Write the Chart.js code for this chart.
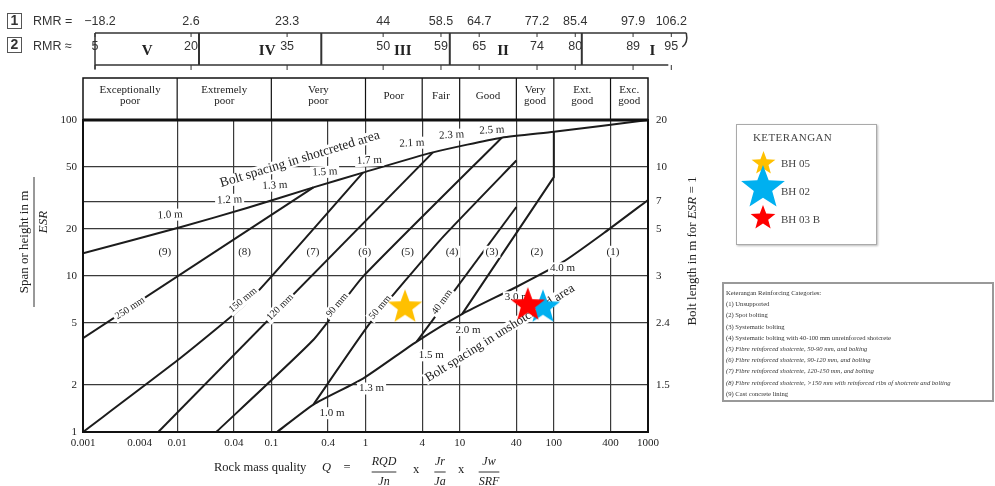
<!DOCTYPE html>
<html>
<head>
<meta charset="utf-8">
<script src="https://cdn.jsdelivr.net/npm/chart.js@4.4.1/dist/chart.umd.min.js"></script>
<style>
  html, body { margin: 0; padding: 0; background: #fff; }
  #wrap { position: relative; width: 995px; height: 486px; overflow: hidden; }
  #chart { position: absolute; left: 0; top: 0; }
  #key1 { position: absolute; left: 736px; top: 124px; width: 141px; height: 121px; box-sizing: border-box;
          border: 1px solid #aaa; box-shadow: 1px 1px 2px #bbb; font-family: 'Liberation Serif', serif; color: #444; font-size: 11px; }
  #key1 .title { position: absolute; left: 16px; top: 6px; letter-spacing: 0.4px; }
  #key1 canvas { position: absolute; }
  #key1 .name { position: absolute; left: 44px; line-height: 12px; }
  #key2 { position: absolute; left: 722px; top: 282px; width: 272px; height: 120px; box-sizing: border-box;
          border: 2px solid #999; font-family: 'Liberation Serif', serif; color: #333; font-size: 6.6px; padding: 3px 0 0 2px; }
  #key2 div { line-height: 11.2px; white-space: nowrap; }
  #key2 .it { font-style: italic; }
</style>
</head>
<body>
<div id="wrap">
  <canvas id="chart" width="995" height="486"></canvas>
  <div id="key1"><div class="title">KETERANGAN</div></div>
  <div id="key2">
    <div>Keterangan Reinforcing Categories:</div>
    <div>(1) Unsupported</div>
    <div>(2) Spot bolting</div>
    <div>(3) Systematic bolting</div>
    <div>(4) Systematic bolting with 40-100 mm unreinforced shotcrete</div>
    <div class="it">(5) Fibre reinforced shotcrete, 50-90 mm, and bolting</div>
    <div class="it">(6) Fibre reinforced shotcrete, 90-120 mm, and bolting</div>
    <div class="it">(7) Fibre reinforced shotcrete, 120-150 mm, and bolting</div>
    <div class="it">(8) Fibre reinforced shotcrete, &gt;150 mm with reinforced ribs of shotcrete and bolting</div>
    <div>(9) Cast concrete lining</div>
  </div>
</div>
<script>
// axes
const qTicks = [0.001, 0.004, 0.01, 0.04, 0.1, 0.4, 1, 4, 10, 40, 100, 400, 1000];
const qNoGrid = [0.001, 0.004, 1000];
const spanTicks = [1, 2, 5, 10, 20, 30, 50, 100];
const spanLabels = ['1', '2', '5', '10', '20', '', '50', '100'];
const boltLengthAt = [2, 5, 10, 20, 30, 50, 100];
const boltLengthLabels = ['1.5', '2.4', '3', '5', '7', '10', '20'];

// rock quality header
const qualityBounds = [0.001, 0.01, 0.1, 1, 4, 10, 40, 100, 400, 1000];
const qualityNames = [['Exceptionally', 'poor'], ['Extremely', 'poor'], ['Very', 'poor'], ['Poor'], ['Fair'],
  ['Good'], ['Very', 'good'], ['Ext.', 'good'], ['Exc.', 'good']];

// RMR rows above the chart
const rmrQ = [0.001, 0.01, 0.1, 1, 4, 10, 40, 100, 400, 1000];
const rmrRow1 = ['\u221218.2', '2.6', '23.3', '44', '58.5', '64.7', '77.2', '85.4', '97.9', '106.2'];
const rmrRow2 = ['5', '20', '35', '50', '59', '65', '74', '80', '89', '95'];
const rmrClassBreakQ = [0.0121, 0.227, 4.94, 117];
const rmrClassNames = ['V', 'IV', 'III', 'II', 'I'];
const rmrClassQ = [0.0035, 0.062, 1.6, 17.7, 635];

// support chart lines (Q, span/ESR)
const shotcreteLimitQ = [0.001, 0.011, 0.055, 0.28, 0.94, 5.2, 28, 100, 1000];
const shotcreteLimitS = [14, 20.6, 27.3, 37, 46, 62, 77, 84, 100];
const unshotLimitQ = [0.115, 0.28, 0.94, 3.5, 10.6, 40, 125, 350, 1000];
const unshotLimitS = [1, 1.5, 2.2, 3.8, 5.7, 8.5, 12.3, 19.1, 30.7];
const mm250Q = [0.001, 0.28];
const mm250S = [4, 37];
const mm150Q = [0.001, 0.011, 0.059, 0.94];
const mm150S = [1, 3, 7, 46];
const mm120Q = [0.0063, 5.2];
const mm120S = [1, 62];
const mm90Q = [0.026, 0.28, 0.94, 28];
const mm90S = [1, 3.9, 9.9, 77];
const mm50Q = [0.28, 1.12, 6.2, 40];
const mm50S = [1.5, 5, 17, 55];
const mm40Q = [3.5, 40];
const mm40S = [3.8, 27.7];
const cat2Q = [10.6, 100, 100];
const cat2S = [5.7, 43, 84];

// text on the chart
const regionNames = ['(9)', '(8)', '(7)', '(6)', '(5)', '(4)', '(3)', '(2)', '(1)'];
const regionQ = [0.0074, 0.052, 0.277, 0.98, 2.8, 8.3, 22, 66, 425];
const regionS = [14.3, 14.3, 14.3, 14.3, 14.3, 14.3, 14.3, 14.3, 14.3];
const upperSpacing = ['1.0 m', '1.2 m', '1.3 m', '1.5 m', '1.7 m', '2.1 m', '2.3 m', '2.5 m'];
const upperSpacingQ = [0.0084, 0.036, 0.109, 0.37, 1.1, 3.1, 8.2, 22];
const upperSpacingS = [24.6, 30.7, 38, 46.4, 55, 71, 80, 86];
const lowerSpacing = ['1.0 m', '1.3 m', '1.5 m', '2.0 m', '3.0 m', '4.0 m'];
const lowerSpacingQ = [0.44, 1.16, 5.0, 12.3, 41, 124];
const lowerSpacingS = [1.32, 1.9, 3.1, 4.5, 7.3, 11.2];
const mmNames = ['250 mm', '150 mm', '120 mm', '90 mm', '50 mm', '40 mm'];
const mmQ = [0.00315, 0.05, 0.124, 0.5, 1.43, 6.5];
const mmS = [6.2, 7.0, 6.3, 6.5, 6.3, 6.8];
const mmAngle = [-33, -40, -45, -50, -50, -54];

// boreholes
const boreholes = ['BH 05', 'BH 02', 'BH 03 B'];
const boreholeQ = [2.63, 76.7, 53];
const boreholeS = [6.3, 6.3, 6.5];
const boreholeColors = ['#ffc000', '#00b0f0', '#ff0000'];
const boreholeOrder = [1, 2, 1];
const legendStarSize = [12.5, 23, 13];
const legendStarY = [38, 63, 93];

const SERIF = '"Liberation Serif", "Times New Roman", serif';
const SANS = '"Liberation Sans", Arial, sans-serif';

function starImage(color, r) {
  const c = document.createElement('canvas');
  const size = Math.ceil(r * 2 + 2);
  c.width = size;
  c.height = size;
  const g = c.getContext('2d');
  g.beginPath();
  for (let i = 0; i < 10; i++) {
    const rad = i % 2 ? r * 0.42 : r;
    const a = -Math.PI / 2 + i * Math.PI / 5;
    g.lineTo(size / 2 + rad * Math.cos(a), size / 2 + rad * Math.sin(a));
  }
  g.closePath();
  g.fillStyle = color;
  g.fill();
  return c;
}

const toPts = (qs, ss) => qs.map((q, i) => ({ x: q, y: ss[i] }));

const lineSet = (qs, ss, tension) => ({
  data: toPts(qs, ss),
  showLine: true,
  pointRadius: 0,
  borderColor: '#1c1c1c',
  borderWidth: 2,
  tension: tension || 0,
  order: 10
});

// legend box 1
const key1 = document.getElementById('key1');
boreholes.forEach((name, i) => {
  const star = starImage(boreholeColors[i], legendStarSize[i]);
  star.style.left = (26 - star.width / 2) + 'px';
  star.style.top = (legendStarY[i] - star.height / 2) + 'px';
  key1.appendChild(star);
});
boreholes.forEach((name, i) => {
  const label = document.createElement('div');
  label.className = 'name';
  label.textContent = name;
  label.style.top = ([38, 66, 94][i] - 6) + 'px';
  key1.appendChild(label);
});

function seg(ctx, x1, y1, x2, y2) {
  ctx.beginPath();
  ctx.moveTo(x1, y1);
  ctx.lineTo(x2, y2);
  ctx.stroke();
}

function tag(ctx, text, x, y, angle, font, bg) {
  ctx.save();
  ctx.translate(x, y);
  ctx.rotate(angle * Math.PI / 180);
  ctx.font = font;
  ctx.textAlign = 'center';
  ctx.textBaseline = 'middle';
  if (bg) {
    const w = ctx.measureText(text).width;
    ctx.fillStyle = '#fff';
    ctx.fillRect(-w / 2 - 2, -6, w + 4, 12);
  }
  ctx.fillStyle = '#222';
  ctx.fillText(text, 0, 0);
  ctx.restore();
}

// text made of normal and italic parts, centred on (x, y)
function rich(ctx, parts, x, y, angle, size) {
  ctx.save();
  ctx.translate(x, y);
  ctx.rotate(angle * Math.PI / 180);
  ctx.textBaseline = 'middle';
  ctx.textAlign = 'left';
  ctx.fillStyle = '#222';
  const fonts = parts.map(p => (p.it ? 'italic ' : '') + size + 'px ' + SERIF);
  let total = 0;
  parts.forEach((p, i) => { ctx.font = fonts[i]; total += ctx.measureText(p.t).width; });
  let cx = -total / 2;
  parts.forEach((p, i) => {
    ctx.font = fonts[i];
    ctx.fillText(p.t, cx, 0);
    cx += ctx.measureText(p.t).width;
  });
  ctx.restore();
}

function fraction(ctx, top, bottom, x, y) {
  ctx.font = 'italic 12px ' + SERIF;
  ctx.textAlign = 'center';
  ctx.textBaseline = 'middle';
  const w = Math.max(ctx.measureText(top).width, ctx.measureText(bottom).width);
  ctx.fillText(top, x, y - 8);
  ctx.fillText(bottom, x, y + 12);
  ctx.lineWidth = 1;
  seg(ctx, x - w / 2, y + 2, x + w / 2, y + 2);
}

function drawChartText(chart) {
  const ctx = chart.ctx, xs = chart.scales.x, ys = chart.scales.y;
  const px = q => xs.getPixelForValue(q), py = s => ys.getPixelForValue(s);
  const small = '11px ' + SERIF;
  regionNames.forEach((t, i) => tag(ctx, t, px(regionQ[i]), py(regionS[i]), 0, small, true));
  upperSpacing.forEach((t, i) => tag(ctx, t, px(upperSpacingQ[i]), py(upperSpacingS[i]), -3, small, true));
  lowerSpacing.forEach((t, i) => tag(ctx, t, px(lowerSpacingQ[i]), py(lowerSpacingS[i]), 0, small, true));
  mmNames.forEach((t, i) => tag(ctx, t, px(mmQ[i]), py(mmS[i]), mmAngle[i], '10px ' + SERIF, true));
  tag(ctx, 'Bolt spacing in shotcreted area', px(0.201), py(56), -17, '13.5px ' + SERIF, true);
  tag(ctx, 'Bolt spacing in unshotcreted area', px(26.8), py(4.3), -32, '13px ' + SERIF, true);
}

const decor = {
  id: 'decor',
  beforeDraw(chart) { chart.$textDone = false; },
  beforeDatasetDraw(chart, args) {
    if (!chart.$textDone && chart.data.datasets[args.index].borehole) {
      drawChartText(chart);
      chart.$textDone = true;
    }
  },
  afterDraw(chart) {
    const ctx = chart.ctx, xs = chart.scales.x, area = chart.chartArea;
    const px = q => xs.getPixelForValue(q);
    if (!chart.$textDone) { drawChartText(chart); chart.$textDone = true; }
    ctx.save();
    ctx.strokeStyle = '#111';

    // frame
    ctx.lineWidth = 2;
    ctx.strokeRect(area.left, area.top, area.right - area.left, area.bottom - area.top);
    ctx.lineWidth = 3;
    seg(ctx, area.left, area.top, area.right, area.top);

    // rock quality header
    const hTop = 78;
    ctx.lineWidth = 1.5;
    ctx.strokeRect(area.left, hTop, area.right - area.left, area.top - hTop);
    ctx.lineWidth = 1.2;
    qualityBounds.slice(1, -1).forEach(q => seg(ctx, px(q), hTop, px(q), area.top));
    ctx.font = '11px ' + SERIF;
    ctx.fillStyle = '#222';
    ctx.textAlign = 'center';
    ctx.textBaseline = 'middle';
    qualityNames.forEach((words, i) => {
      const cx = (px(qualityBounds[i]) + px(qualityBounds[i + 1])) / 2;
      words.forEach((w, j) => ctx.fillText(w, cx, hTop + 18 + (j - (words.length - 1) / 2) * 11));
    });

    // RMR rows
    const rx = q => 95 + 1.02 * (px(q) - area.left);
    const y1 = 33, y2 = 65;
    ctx.strokeStyle = '#555';
    ctx.lineWidth = 1;
    ctx.strokeRect(7.5, 13.5, 14, 15);
    ctx.strokeRect(7.5, 37.5, 14, 15);
    ctx.fillStyle = '#333';
    ctx.font = 'bold 14px ' + SANS;
    ctx.fillText('1', 14.5, 21.5);
    ctx.fillText('2', 14.5, 45.5);
    ctx.font = '12.5px ' + SANS;
    ctx.textAlign = 'left';
    ctx.fillText('RMR =', 33, 22);
    ctx.fillText('RMR \u2248', 33, 47);
    ctx.textAlign = 'center';
    rmrRow1.forEach((t, i) => ctx.fillText(t, rx(rmrQ[i]) + (i === 0 ? 5 : 0), 22));
    rmrRow2.forEach((t, i) => ctx.fillText(t, rx(rmrQ[i]), 47));
    ctx.strokeStyle = '#333';
    ctx.lineWidth = 1.5;
    const xEnd = rx(1000);
    seg(ctx, rx(0.001), y1, xEnd + 15, y1);
    ctx.beginPath();
    ctx.moveTo(xEnd + 15, y1);
    ctx.quadraticCurveTo(xEnd + 17, y1 + 10, xEnd + 11, y1 + 14);
    ctx.stroke();
    seg(ctx, rx(0.001), y2, xEnd - 3, y2);
    seg(ctx, rx(0.001), y1, rx(0.001), y2 + 4);
    ctx.lineWidth = 1;
    rmrQ.forEach(q => { seg(ctx, rx(q), y1, rx(q), y1 + 4); seg(ctx, rx(q), y2, rx(q), y2 + 5); });
    ctx.lineWidth = 2;
    rmrClassBreakQ.forEach(q => seg(ctx, rx(q), y1, rx(q), y2));
    ctx.font = 'bold 15px ' + SERIF;
    ctx.fillStyle = '#222';
    rmrClassNames.forEach((t, i) => ctx.fillText(t, rx(rmrClassQ[i]), 51));

    // axis titles
    ctx.fillStyle = '#222';
    rich(ctx, [{ t: 'Span or height in m' }], 25, 242, -90, 13);
    ctx.lineWidth = 1;
    seg(ctx, 34, 177, 34, 307);
    rich(ctx, [{ t: 'ESR', it: true }], 44, 222, -90, 13);
    rich(ctx, [{ t: 'Bolt length in m for ' }, { t: 'ESR', it: true }, { t: ' = 1' }], 693, 251, -90, 13);

    ctx.font = '12.5px ' + SERIF;
    ctx.textAlign = 'left';
    ctx.textBaseline = 'middle';
    ctx.fillText('Rock mass quality', 214, 468);
    ctx.font = 'italic 12.5px ' + SERIF;
    ctx.fillText('Q', 322, 468);
    ctx.font = '12.5px ' + SERIF;
    ctx.textAlign = 'center';
    ctx.fillText('=', 347, 468);
    ctx.fillText('x', 416, 470);
    ctx.fillText('x', 461, 470);
    fraction(ctx, 'RQD', 'Jn', 384, 470);
    fraction(ctx, 'Jr', 'Ja', 440, 470);
    fraction(ctx, 'Jw', 'SRF', 489, 470);
    ctx.restore();
  }
};

const datasets = [
  lineSet(shotcreteLimitQ, shotcreteLimitS, 0.2),
  lineSet(unshotLimitQ, unshotLimitS, 0.2),
  lineSet(mm250Q, mm250S),
  lineSet(mm150Q, mm150S, 0.15),
  lineSet(mm120Q, mm120S),
  lineSet(mm90Q, mm90S, 0.15),
  lineSet(mm50Q, mm50S, 0.15),
  lineSet(mm40Q, mm40S),
  lineSet(cat2Q, cat2S)
];
boreholes.forEach((name, i) => {
  datasets.push({
    label: name,
    borehole: true,
    data: [{ x: boreholeQ[i], y: boreholeS[i] }],
    pointStyle: starImage(boreholeColors[i], 18),
    pointRadius: 18,
    order: boreholeOrder[i]
  });
});

const tickFont = { family: SERIF, size: 11 };

new Chart(document.getElementById('chart'), {
  type: 'scatter',
  data: { datasets: datasets },
  options: {
    responsive: false,
    animation: false,
    events: [],
    layout: { padding: { top: 120, right: 302, left: 0, bottom: 0 } },
    plugins: { legend: { display: false }, tooltip: { enabled: false } },
    scales: {
      x: {
        type: 'logarithmic',
        min: 0.001,
        max: 1000,
        afterBuildTicks: s => { s.ticks = qTicks.map(v => ({ value: v })); },
        afterFit: s => { s.height = 54; },
        ticks: { autoSkip: false, maxRotation: 0, padding: 5, color: '#222', font: tickFont,
                 callback: v => String(v) },
        grid: { drawTicks: false, lineWidth: 1.2,
                color: c => (c.tick && qNoGrid.includes(c.tick.value)) ? 'rgba(0,0,0,0)' : '#3a3a3a' },
        border: { display: false }
      },
      y: {
        type: 'logarithmic',
        min: 1,
        max: 100,
        afterBuildTicks: s => { s.ticks = spanTicks.map(v => ({ value: v })); },
        afterFit: s => { s.width = 83; },
        ticks: { autoSkip: false, padding: 6, color: '#222', font: tickFont,
                 callback: v => spanLabels[spanTicks.indexOf(v)] },
        grid: { drawTicks: false, lineWidth: 1.2, color: '#3a3a3a' },
        border: { display: false }
      },
      y2: {
        type: 'logarithmic',
        position: 'right',
        min: 1,
        max: 100,
        afterBuildTicks: s => { s.ticks = boltLengthAt.map(v => ({ value: v })); },
        afterFit: s => { s.width = 45; },
        ticks: { autoSkip: false, padding: 8, color: '#222', font: tickFont,
                 callback: v => boltLengthLabels[boltLengthAt.indexOf(v)] },
        grid: { display: false, drawTicks: false },
        border: { display: false }
      }
    }
  },
  plugins: [decor]
});
</script>
</body>
</html>
